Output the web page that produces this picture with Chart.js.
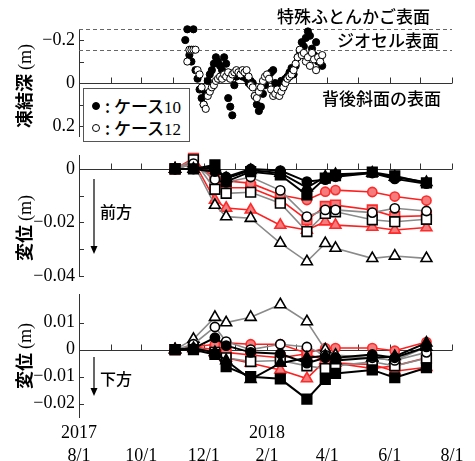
<!DOCTYPE html>
<html>
<head>
<meta charset="utf-8">
<script src="https://cdn.jsdelivr.net/npm/chart.js@4.4.0/dist/chart.umd.min.js"></script>
<style>
html, body { margin: 0; padding: 0; background: #fff; width: 475px; height: 461px; overflow: hidden; }
#wrap { position: relative; width: 475px; height: 461px; overflow: hidden; }
canvas { position: absolute; left: 0; }
.jp { position: absolute; font-family: "Noto Sans CJK JP", sans-serif; font-size: 17px; font-weight: 500; line-height: 1; color: #000; white-space: nowrap; }
.serif { font-family: "Liberation Serif", serif; font-weight: normal; }
.ytitle { position: absolute; transform: translate(-50%, -50%) rotate(-90deg); font-family: "Noto Sans CJK JP", sans-serif;
          font-weight: bold; font-size: 18px; line-height: 1; white-space: nowrap; }
#legend { position: absolute; left: 83px; top: 88px; width: 105px; height: 52px; border: 1.5px solid #555; background: #fff; }
.dot { position: absolute; width: 8px; height: 8px; border-radius: 50%; box-sizing: border-box; border: 1px solid #000; }
</style>
</head>
<body>
<div id="wrap">
  <canvas id="frostChart" width="475" height="155" style="top:0px"></canvas>
  <canvas id="frontChart" width="475" height="155" style="top:140px"></canvas>
  <canvas id="downChart" width="475" height="192" style="top:280px"></canvas>

  <div class="jp" style="left:277px;top:7px;">特殊ふとんかご表面</div>
  <div class="jp" style="left:337px;top:31px;">ジオセル表面</div>
  <div class="jp" style="left:322px;top:89px;">背後斜面の表面</div>

  <div id="legend">
    <span class="dot" style="left:8px;top:13px;background:#000"></span>
    <span class="jp" style="left:21px;top:8px;">: ケース<span class="serif">10</span></span>
    <span class="dot" style="left:8px;top:35px;background:#fff"></span>
    <span class="jp" style="left:21px;top:30px;">: ケース<span class="serif">12</span></span>
  </div>

  <div class="ytitle" style="left:24px;top:86px;">凍結深 <span class="serif">(m)</span></div>
  <div class="ytitle" style="left:24px;top:228px;">変位 <span class="serif">(m)</span></div>
  <div class="ytitle" style="left:24px;top:356px;">変位 <span class="serif">(m)</span></div>

  <div class="jp" style="left:100px;top:203px;font-size:16px;">前方</div>
  <div class="jp" style="left:100px;top:370px;font-size:16px;">下方</div>

  <svg width="475" height="461" style="position:absolute;left:0;top:0;pointer-events:none">
    <line x1="94" y1="179" x2="94" y2="248" stroke="#000" stroke-width="1.2"/>
    <polygon points="90.5,246 97.5,246 94,254" fill="#000"/>
    <line x1="94" y1="357" x2="94" y2="390" stroke="#000" stroke-width="1.2"/>
    <polygon points="90.5,388 97.5,388 94,396" fill="#000"/>
  </svg>
</div>

<script>
// month ticks on the time axis
const monthTicks = ['2017-08-01', '2017-09-01', '2017-10-01', '2017-11-01', '2017-12-01', '2018-01-01', '2018-02-01',
                    '2018-03-01', '2018-04-01', '2018-05-01', '2018-06-01', '2018-07-01', '2018-08-01'];
const monthLabels = ['8/1', '', '10/1', '', '12/1', '', '2/1', '', '4/1', '', '6/1', '', '8/1'];
const yearLabels = ['2017', '', '', '', '', '', '2018', '', '', '', '', '', ''];

// frost depth (m), one reading every 2 days
const frostStep = 2;
const case10Start = '2017-11-13';
const case10Depth = [-0.20, -0.25, -0.13, -0.10, -0.25, -0.06, -0.02, 0.03, 0.07, 0.10, 0.05, -0.01, -0.04, -0.06,
                     -0.09, -0.12, -0.10, -0.08, -0.06, -0.12, -0.09, 0.07, 0.11, 0.15, 0.01, -0.03, -0.04, -0.05,
                     -0.03, -0.04, -0.02, 0.00, -0.01, 0.00, 0.06, 0.10, 0.13, 0.11, 0.05, 0.01, -0.02, -0.04,
                     -0.05, -0.06, 0.00, 0.03, 0.01, -0.01, 0.02, -0.02, -0.03, -0.05, -0.07, -0.04, -0.08, -0.12,
                     -0.15, -0.19, -0.17, -0.21, -0.24, -0.22, -0.16, -0.13, -0.19, -0.10, -0.12, -0.08];
const case12Start = '2017-11-15';
const case12Depth = [-0.10, -0.155, -0.155, -0.155, -0.155, -0.06, -0.04, 0.02, 0.10, 0.12, 0.06, 0.04, 0.02, 0.01,
                     -0.01, -0.02, -0.03, -0.02, -0.04, -0.03, -0.05, -0.02, -0.04, -0.05, -0.06, -0.05, -0.04, -0.06,
                     -0.05, -0.06, -0.03, 0.01, 0.02, 0.06, 0.07, 0.04, 0.02, -0.01, -0.03, -0.04, -0.02, 0.03,
                     0.06, 0.05, 0.03, 0.06, 0.04, 0.02, 0.00, -0.02, -0.03, -0.04, -0.06, -0.09, -0.12, -0.155,
                     -0.13, -0.14, -0.10, -0.12, -0.08, -0.14, -0.11, -0.06, -0.12, -0.10, -0.13];
const gabionSurface = -0.25;
const geocellSurface = -0.153;

// displacement survey dates
const surveyDates = ['2017-11-03', '2017-11-21', '2017-12-12', '2017-12-23', '2018-01-16', '2018-02-14',
                     '2018-03-12', '2018-03-30', '2018-04-09', '2018-05-15', '2018-06-06', '2018-07-07'];

// forward displacement (m)
const fwdBlackCircle = [0, 0, -0.001, -0.003, 0, -0.0006, -0.0047, -0.004, -0.0029, -0.0015, -0.0037, -0.0055];
const fwdBlackSquare = [0, 0, 0.0015, -0.0047, -0.001, -0.0022, -0.0097, -0.0034, -0.0025, -0.0012, -0.0026, -0.0052];
const fwdBlackTri    = [0, 0, 0.0005, -0.0035, -0.0005, -0.0015, -0.007, -0.003, -0.002, -0.0015, -0.003, -0.005];
const fwdOpenCircle  = [0, 0.002, -0.0039, -0.005, -0.003, -0.008, -0.0178, -0.0153, -0.0153, -0.0163, -0.0147, -0.0157];
const fwdOpenSquare  = [0, 0.0034, -0.0076, -0.0091, -0.0087, -0.0128, -0.0234, -0.0166, -0.016, -0.019, -0.0197, -0.0188];
const fwdOpenTri     = [0, 0.002, -0.0135, -0.0178, -0.0184, -0.0277, -0.0346, -0.0278, -0.0296, -0.0334, -0.0325, -0.0334];
const fwdRedCircle   = [0, 0.002, -0.003, -0.0045, -0.0053, -0.0097, -0.0116, -0.0085, -0.0079, -0.0086, -0.0103, -0.0118];
const fwdRedSquare   = [0, 0.004, -0.005, -0.007, -0.007, -0.0115, -0.019, -0.014, -0.0135, -0.0153, -0.0178, -0.0175];
const fwdRedTri      = [0, 0.003, -0.0116, -0.0146, -0.0153, -0.021, -0.0228, -0.0197, -0.021, -0.0217, -0.0228, -0.0219];

// downward displacement (m)
const dnBlackCircle = [0, 0.0005, 0.0044, 0.0015, -0.001, -0.0015, -0.005, -0.003, -0.003, -0.0018, -0.003, 0.001];
const dnBlackSquare = [0, 0, -0.0018, -0.0063, -0.010, -0.0108, -0.0183, -0.011, -0.0088, -0.0075, -0.0104, -0.0067];
const dnBlackTri    = [0, 0.0005, -0.001, -0.004, -0.011, -0.005, -0.003, -0.0023, -0.004, -0.003, -0.0025, 0.0025];
const dnOpenCircle  = [0, 0.002, 0.0084, 0.003, 0.0, 0.002, 0.001, -0.002, -0.003, -0.003, -0.004, -0.001];
const dnOpenSquare  = [0, 0.001, -0.001, -0.003, -0.0044, -0.004, -0.006, -0.007, -0.006, -0.0045, -0.006, -0.0032];
const dnOpenTri     = [0, 0.0039, 0.012, 0.010, 0.012, 0.0167, 0.0104, 0.0, -0.002, -0.003, -0.004, 0.001];
const dnRedCircle   = [0, 0.001, 0.002, 0.0025, 0.002, 0.002, -0.0013, 0.0006, 0.0006, 0.0006, -0.0004, 0.0028];
const dnRedSquare   = [0, 0.001, 0.0, -0.001, -0.002, -0.003, -0.0015, -0.004, -0.005, -0.007, -0.006, -0.003];
const dnRedTri      = [0, 0.0005, -0.001, -0.003, -0.005, -0.0075, -0.0107, -0.004, -0.005, -0.0055, -0.008, -0.0065];

const SERIF = '"Liberation Serif", "Times New Roman", serif';
const AXIS_COLOR = '#333';

function toDay(s) {
    const [y, m, d] = s.split('-').map(Number);
    return (Date.UTC(y, m - 1, d) - Date.UTC(2017, 7, 1)) / 86400000;
}
const monthDays = monthTicks.map(toDay);

function seriesPoints(start, step, values) {
    const d0 = toDay(start);
    return values.map((v, i) => ({ x: d0 + i * step, y: v }));
}
function surveyPoints(values) {
    return values.map((v, i) => ({ x: toDay(surveyDates[i]), y: v }));
}

// zero line with upward month ticks, inward y ticks, optional dashed levels
const axisMarks = {
    id: 'axisMarks',
    beforeDatasetsDraw(chart, args, opts) {
        const { ctx, chartArea, scales: { x, y } } = chart;
        ctx.save();
        ctx.strokeStyle = AXIS_COLOR;
        ctx.lineWidth = 1;
        ctx.beginPath();
        (opts.yMarks || []).forEach(v => {
            const py = Math.round(y.getPixelForValue(v)) + 0.5;
            ctx.moveTo(chartArea.left, py);
            ctx.lineTo(chartArea.left + 5, py);
        });
        const y0 = Math.round(y.getPixelForValue(0)) + 0.5;
        ctx.moveTo(chartArea.left, y0);
        ctx.lineTo(chartArea.right, y0);
        monthDays.forEach((d, i) => {
            if (i === 0) return;
            const px = Math.round(x.getPixelForValue(d)) + 0.5;
            ctx.moveTo(px, y0);
            ctx.lineTo(px, y0 - 6);
        });
        ctx.stroke();
        if (opts.dashed) {
            ctx.strokeStyle = '#666';
            ctx.setLineDash([4, 3]);
            ctx.beginPath();
            opts.dashed.forEach(v => {
                const py = Math.round(y.getPixelForValue(v)) + 0.5;
                ctx.moveTo(chartArea.left, py);
                ctx.lineTo(chartArea.right, py);
            });
            ctx.stroke();
        }
        ctx.restore();
    }
};

function makeChart(id, cfg) {
    const ctx = document.getElementById(id).getContext('2d');
    return new Chart(ctx, {
        type: 'line',
        data: { datasets: cfg.datasets },
        options: {
            responsive: false,
            animation: false,
            devicePixelRatio: 1,
            layout: { padding: { left: 0, right: 23, top: cfg.padTop, bottom: cfg.padBottom } },
            plugins: {
                legend: { display: false },
                tooltip: { enabled: false },
                axisMarks: { yMarks: cfg.yMarks, dashed: cfg.dashed }
            },
            scales: {
                x: {
                    type: 'linear',
                    min: 0,
                    max: 365,
                    display: cfg.showX,
                    grid: { display: false, drawTicks: false },
                    border: { display: false },
                    afterBuildTicks: scale => { scale.ticks = monthDays.map(v => ({ value: v })); },
                    ticks: {
                        autoSkip: false,
                        maxRotation: 0,
                        minRotation: 0,
                        padding: 4,
                        color: '#000',
                        font: { family: SERIF, size: 18, lineHeight: 1.3 },
                        callback: (value, i) => monthLabels[i] ? [yearLabels[i], monthLabels[i]] : ''
                    }
                },
                y: {
                    type: 'linear',
                    min: cfg.yMin,
                    max: cfg.yMax,
                    reverse: !!cfg.reverse,
                    grid: { display: false, drawTicks: false },
                    border: { display: true, color: AXIS_COLOR, width: 1 },
                    afterFit: scale => { scale.width = 79; },
                    afterBuildTicks: scale => { scale.ticks = cfg.yMarks.map(v => ({ value: v })); },
                    ticks: {
                        padding: 4,
                        color: '#000',
                        font: { family: SERIF, size: 18 },
                        callback: value => {
                            const hit = cfg.yLabels.find(l => Math.abs(l - value) < 1e-9);
                            if (hit === undefined) return '';
                            return hit < 0 ? '\u2212' + String(-hit) : String(hit);
                        }
                    }
                }
            }
        },
        plugins: [axisMarks]
    });
}

// ---- frost depth panel
makeChart('frostChart', {
    yMin: -0.25, yMax: 0.25, reverse: true,
    yMarks: [-0.2, -0.1, 0, 0.1, 0.2],
    yLabels: [-0.2, 0, 0.2],
    dashed: [gabionSurface, geocellSurface],
    padTop: 29.3, padBottom: 18.2, showX: false,
    datasets: [
        {
            label: 'ケース12',
            data: seriesPoints(case12Start, frostStep, case12Depth),
            showLine: false, clip: false,
            pointStyle: 'circle', pointRadius: 3.6, pointBorderWidth: 1,
            pointBackgroundColor: '#fff', pointBorderColor: '#000'
        },
        {
            label: 'ケース10',
            data: seriesPoints(case10Start, frostStep, case10Depth),
            showLine: false, clip: false,
            pointStyle: 'circle', pointRadius: 3.6, pointBorderWidth: 1,
            pointBackgroundColor: '#000', pointBorderColor: '#000'
        }
    ]
});

// ---- displacement panels
const looks = {
    black: { line: '#000', fill: '#000', edge: '#000', width: 2 },
    open:  { line: '#8a8a8a', fill: '#fff', edge: '#000', width: 1.6 },
    red:   { line: '#ff1f1f', fill: '#f47c7c', edge: '#ff2a2a', width: 1.6 }
};
const shapeRadius = { circle: 4.6, rect: 6.8, triangle: 6.3 };

function dispSet(values, look, shape) {
    const s = looks[look];
    return {
        data: surveyPoints(values),
        clip: false,
        borderColor: s.line, borderWidth: s.width,
        pointStyle: shape, pointRadius: shapeRadius[shape], pointBorderWidth: 1.6,
        pointBackgroundColor: s.fill, pointBorderColor: s.edge
    };
}

makeChart('frontChart', {
    yMin: -0.04, yMax: 0.005,
    yMarks: [0, -0.01, -0.02, -0.03, -0.04],
    yLabels: [0, -0.02, -0.04],
    padTop: 15.6, padBottom: 19, showX: false,
    datasets: [
        dispSet(fwdBlackCircle, 'black', 'circle'),
        dispSet(fwdBlackSquare, 'black', 'rect'),
        dispSet(fwdBlackTri, 'black', 'triangle'),
        dispSet(fwdOpenCircle, 'open', 'circle'),
        dispSet(fwdOpenSquare, 'open', 'rect'),
        dispSet(fwdOpenTri, 'open', 'triangle'),
        dispSet(fwdRedCircle, 'red', 'circle'),
        dispSet(fwdRedSquare, 'red', 'rect'),
        dispSet(fwdRedTri, 'red', 'triangle')
    ]
});

makeChart('downChart', {
    yMin: -0.025, yMax: 0.0203,
    yMarks: [0.01, 0, -0.01, -0.02],
    yLabels: [0.01, 0, -0.01, -0.02],
    padTop: 14.3, padBottom: 0, showX: true,
    datasets: [
        dispSet(dnBlackCircle, 'black', 'circle'),
        dispSet(dnBlackSquare, 'black', 'rect'),
        dispSet(dnBlackTri, 'black', 'triangle'),
        dispSet(dnOpenCircle, 'open', 'circle'),
        dispSet(dnOpenSquare, 'open', 'rect'),
        dispSet(dnOpenTri, 'open', 'triangle'),
        dispSet(dnRedCircle, 'red', 'circle'),
        dispSet(dnRedSquare, 'red', 'rect'),
        dispSet(dnRedTri, 'red', 'triangle')
    ]
});
</script>
</body>
</html>
